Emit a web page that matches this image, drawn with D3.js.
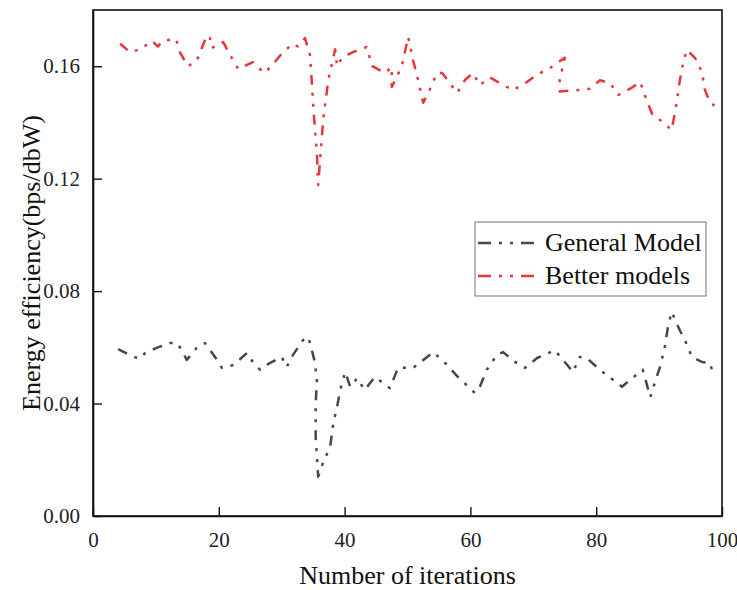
<!DOCTYPE html>
<html>
<head>
<meta charset="utf-8">
<script src="https://cdn.jsdelivr.net/npm/d3@7"></script>
<style>
  body { margin: 0; background: #fff; }
</style>
</head>
<body>
<div id="chart"></div>
<script>
const WIDTH = 737, HEIGHT = 590
const margin = { top: 10, right: 15, bottom: 74, left: 93 }

const xTicks = [0, 20, 40, 60, 80, 100]
const yTicks = [0, 0.04, 0.08, 0.12, 0.16]

// General Model (iteration, value)
const generalX = [4, 6.4, 7.5, 8.3, 10.3, 12.2, 13.4, 14.1, 14.9, 16.5, 17.8, 19.4, 20.5, 22.3, 24.5, 25.4, 26.6, 28.1, 30, 30.8, 31.8, 33.4, 34.2, 34.8, 35.3, 35.6, 35.4, 35.4, 35.6, 35.8, 36.6, 37.7, 38.2, 38.8, 39.3, 40.1, 40.9, 42, 43.2, 44.8, 47.2, 48.5, 50.9, 54.1, 56, 58, 60.7, 61.5, 62.6, 64.2, 65.2, 67.1, 68.7, 70.6, 73.4, 75.4, 76.3, 77.4, 78.5, 80.6, 84.1, 85.7, 87.4, 88.6, 89.3, 90.1, 90.9, 91.4, 92, 93.3, 94.1, 95.2, 96.8, 98.1, 98.4]
const generalY = [0.0594, 0.0566, 0.056, 0.058, 0.060, 0.0615, 0.0615, 0.059, 0.0555, 0.0598, 0.0615, 0.0566, 0.0527, 0.0537, 0.058, 0.0548, 0.052, 0.0544, 0.0566, 0.053, 0.0573, 0.0626, 0.0637, 0.059, 0.0544, 0.048, 0.040, 0.028, 0.021, 0.014, 0.0192, 0.0245, 0.033, 0.0388, 0.0448, 0.0512, 0.0459, 0.049, 0.0448, 0.0495, 0.0455, 0.0527, 0.0527, 0.0583, 0.0544, 0.0495, 0.0438, 0.046, 0.052, 0.0573, 0.0583, 0.0548, 0.0527, 0.0562, 0.059, 0.0537, 0.0512, 0.0566, 0.0562, 0.052, 0.046, 0.049, 0.052, 0.0423, 0.0473, 0.0527, 0.060, 0.0672, 0.0726, 0.066, 0.0626, 0.0566, 0.0548, 0.0544, 0.052]

// Better models (iteration, value)
const betterX = [4.3, 5.9, 7.5, 9.4, 10.3, 11.1, 13.2, 13.8, 15.1, 16.5, 17.3, 18.1, 18.6, 18.9, 20.7, 21.8, 23.1, 25.4, 26, 27.3, 28.9, 30.2, 31.8, 32.6, 33.7, 34.5, 34.8, 35.1, 35.6, 35.8, 36.6, 37.4, 38.5, 38.8, 39.6, 41.3, 43.5, 44.4, 46.4, 47.5, 47.5, 49.1, 50.1, 50.9, 51.7, 52.5, 53.6, 54.7, 55.5, 57.9, 59.1, 60.4, 61.5, 63.1, 65.2, 66.8, 69, 70.6, 72.9, 75, 74.2, 74.2, 77, 79, 80.6, 82.2, 83.5, 85.4, 87, 88, 88.9, 90.1, 92, 92.8, 93.3, 93.8, 94.4, 95.7, 96.8, 97.3, 98.1, 98.8]
const betterY = [0.168, 0.165, 0.166, 0.169, 0.167, 0.169, 0.1697, 0.165, 0.160, 0.162, 0.1665, 0.171, 0.170, 0.1665, 0.1686, 0.164, 0.159, 0.1615, 0.160, 0.1576, 0.1615, 0.165, 0.168, 0.167, 0.170, 0.164, 0.154, 0.143, 0.129, 0.1178, 0.141, 0.155, 0.166, 0.160, 0.163, 0.165, 0.1668, 0.160, 0.1576, 0.1597, 0.1526, 0.160, 0.1704, 0.162, 0.155, 0.147, 0.152, 0.1576, 0.1576, 0.1505, 0.155, 0.1576, 0.1533, 0.156, 0.1533, 0.1515, 0.1544, 0.157, 0.1597, 0.163, 0.155, 0.151, 0.1515, 0.152, 0.155, 0.154, 0.1498, 0.152, 0.1544, 0.148, 0.143, 0.141, 0.1373, 0.147, 0.155, 0.161, 0.1658, 0.163, 0.158, 0.1515, 0.147, 0.146]

const seriesNames = ['General Model', 'Better models']
const seriesColors = ['#474747', '#e8363d']

const series = [
    { name: seriesNames[0], color: seriesColors[0], points: generalX.map((x, i) => [x, generalY[i]]) },
    { name: seriesNames[1], color: seriesColors[1], points: betterX.map((x, i) => [x, betterY[i]]) }
]

const FONT = "'Liberation Serif'"

const svg = d3.select('#chart')
    .append('svg')
    .attr('width', WIDTH)
    .attr('height', HEIGHT)

const xScale = d3.scaleLinear()
    .domain([0, 100])
    .range([margin.left, WIDTH - margin.right])

const yScale = d3.scaleLinear()
    .domain([0, 0.18])
    .range([HEIGHT - margin.bottom, margin.top])

const dash = '10,8,3,8,3,8'

// lines
const line = d3.line()
    .x(d => xScale(d[0]))
    .y(d => yScale(d[1]))

svg.selectAll('.series')
    .data(series)
    .join('path')
    .attr('class', 'series')
    .attr('d', d => line(d.points))
    .attr('fill', 'none')
    .attr('stroke', d => d.color)
    .attr('stroke-width', 2.5)
    .attr('stroke-dasharray', dash)
    .attr('stroke-linejoin', 'round')

// frame
svg.append('rect')
    .attr('x', margin.left)
    .attr('y', margin.top)
    .attr('width', WIDTH - margin.left - margin.right)
    .attr('height', HEIGHT - margin.top - margin.bottom)
    .attr('fill', 'none')
    .attr('stroke', '#111')
    .attr('stroke-width', 1.6)

// axes (ticks pointing inward)
const xAxis = svg.append('g')
    .attr('transform', `translate(0, ${HEIGHT - margin.bottom})`)
    .call(d3.axisBottom(xScale).tickValues(xTicks).tickSizeInner(-9).tickSizeOuter(0).tickPadding(16).tickFormat(d3.format('d')))
const yAxis = svg.append('g')
    .attr('transform', `translate(${margin.left}, 0)`)
    .call(d3.axisLeft(yScale).tickValues(yTicks).tickSizeInner(-9).tickSizeOuter(0).tickPadding(13).tickFormat(d3.format('.2f')))

for (const ax of [xAxis, yAxis]) {
    ax.attr('font-family', null)
    ax.select('.domain').attr('stroke', '#111').attr('stroke-width', 1.6)
    ax.selectAll('.tick line').attr('stroke', '#111').attr('stroke-width', 1.4)
    ax.selectAll('.tick text')
        .style('font-family', FONT)
        .style('font-size', '21px')
        .attr('fill', '#222')
}

// axis titles
svg.append('text')
    .attr('x', (margin.left + WIDTH - margin.right) / 2)
    .attr('y', 584)
    .attr('text-anchor', 'middle')
    .style('font-family', FONT)
    .style('font-size', '26px')
    .attr('fill', '#111')
    .text('Number of iterations')

svg.append('text')
    .attr('transform', `translate(40, ${(margin.top + HEIGHT - margin.bottom) / 2}) rotate(-90)`)
    .attr('text-anchor', 'middle')
    .style('font-family', FONT)
    .style('font-size', '26px')
    .attr('fill', '#111')
    .text('Energy efficiency(bps/dbW)')

// legend
const legend = svg.append('g').attr('transform', 'translate(475, 222)')
legend.append('rect')
    .attr('width', 231)
    .attr('height', 74)
    .attr('fill', '#fff')
    .attr('stroke', '#777')
    .attr('stroke-width', 1)

series.forEach((s, i) => {
    const y = 21 + i * 33
    legend.append('line')
        .attr('x1', 3).attr('x2', 62)
        .attr('y1', y).attr('y2', y)
        .attr('stroke', s.color)
        .attr('stroke-width', 2.6)
        .attr('stroke-dasharray', '13,8,3,8,3,8')
    legend.append('text')
        .attr('x', 70)
        .attr('y', y + 8)
        .style('font-family', FONT)
        .style('font-size', '26px')
        .attr('fill', '#111')
        .text(s.name)
})
</script>
</body>
</html>
